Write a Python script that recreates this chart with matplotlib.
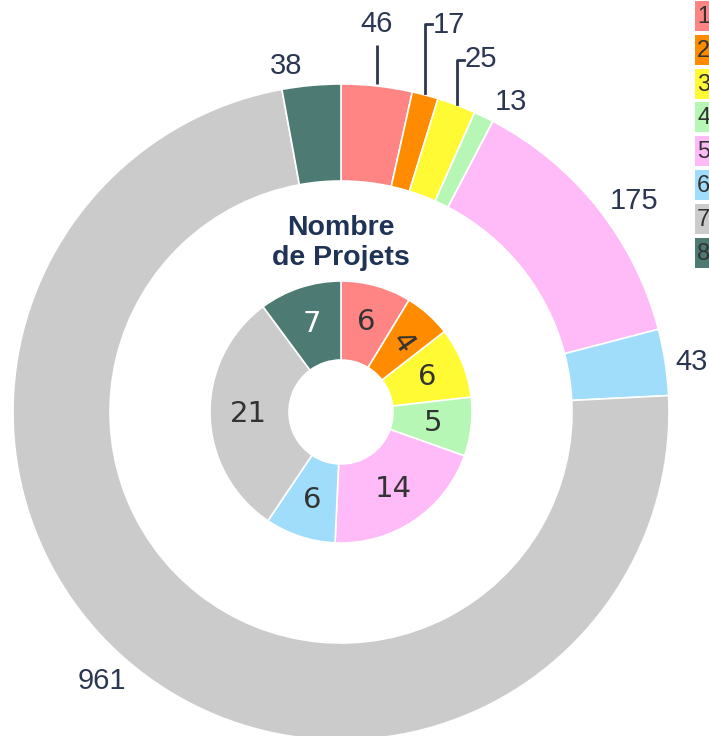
import matplotlib
matplotlib.use("Agg")
import matplotlib.pyplot as plt
import numpy as np

# ---------------- data ----------------
categories = ["1", "2", "3", "4", "5", "6", "7", "8"]
outer_values = [46, 17, 25, 13, 175, 43, 961, 38]   # outer ring
inner_values = [6, 4, 6, 5, 14, 6, 21, 7]           # inner ring ("Nombre de Projets")
colors = ["#FF8484", "#FF8C00", "#FFFA33", "#B6F7B6",
          "#FFBBF8", "#9FDDFB", "#CBCBCB", "#4D7A73"]
title_text = "Nombre\nde Projets"

W, H = 709, 736
fig = plt.figure(figsize=(W / 100, H / 100), dpi=100)
ax = fig.add_axes([0, 0, 1, 1])

def Y(ypx):
    return H - ypx

cx, cy = 341, Y(412)
navy = "#2B3752"

# outer ring
ax.pie(outer_values, radius=328, center=(cx, cy), startangle=90,
       counterclock=False, colors=colors,
       wedgeprops=dict(width=97, edgecolor="white", linewidth=1.2))
# inner ring
inner_wedges, _ = ax.pie(inner_values, radius=131, center=(cx, cy), startangle=90,
                         counterclock=False, colors=colors,
                         wedgeprops=dict(width=79, edgecolor="white", linewidth=1.2))

ax.set_xlim(0, W)
ax.set_ylim(0, H)
ax.set_aspect("equal")
ax.axis("off")

# inner labels at wedge mid-angle
for w, v, c in zip(inner_wedges, inner_values, colors):
    ang = np.deg2rad((w.theta1 + w.theta2) / 2)
    r = 93
    x = cx + r * np.cos(ang)
    y = cy + r * np.sin(ang)
    tc = "white" if c == "#4D7A73" else "#333333"
    rot = 0
    if v == 4:
        rot = -55
    ax.text(x, y, str(v), ha="center", va="center", fontsize=21,
            family="DejaVu Sans", color=tc, rotation=rot)

# outer labels
outer_pos = [(377, 24), (433, 25), (465, 59), (511, 102),
             (634, 201), (675, 362), (102, 681), (286, 66)]
outer_ha = ["center", "left", "left", "center", "center", "left", "center", "center"]
for v, (px, py), ha in zip(outer_values, outer_pos, outer_ha):
    ax.text(px, Y(py), str(v), ha=ha, va="center", fontsize=21,
            family="Liberation Sans", color=navy)

# leader lines
lw = 2
ax.plot([377, 377], [Y(84), Y(45)], color=navy, lw=lw, solid_capstyle="butt")
ax.plot([425, 425, 432], [Y(93), Y(24), Y(24)], color=navy, lw=lw)
ax.plot([457, 457, 464], [Y(104), Y(60), Y(60)], color=navy, lw=lw)

# centre title
ax.text(cx, Y(243), title_text, ha="center", va="center", fontsize=20.5,
        fontweight="bold", family="Liberation Sans", color="#1F3356",
        linespacing=1.2)

# legend (cut off at right edge)
box_top = 1
pitch = 33.8
for i, (cat, c) in enumerate(zip(categories, colors)):
    top = box_top + i * pitch
    rect = plt.Rectangle((695, Y(top + 30)), 30, 30, facecolor=c,
                         edgecolor="none", clip_on=True)
    ax.add_patch(rect)
    ax.text(697, Y(top + 16), cat, ha="left", va="center", fontsize=17,
            family="Liberation Sans", color="#333333")

fig.savefig("out.png", dpi=100)
